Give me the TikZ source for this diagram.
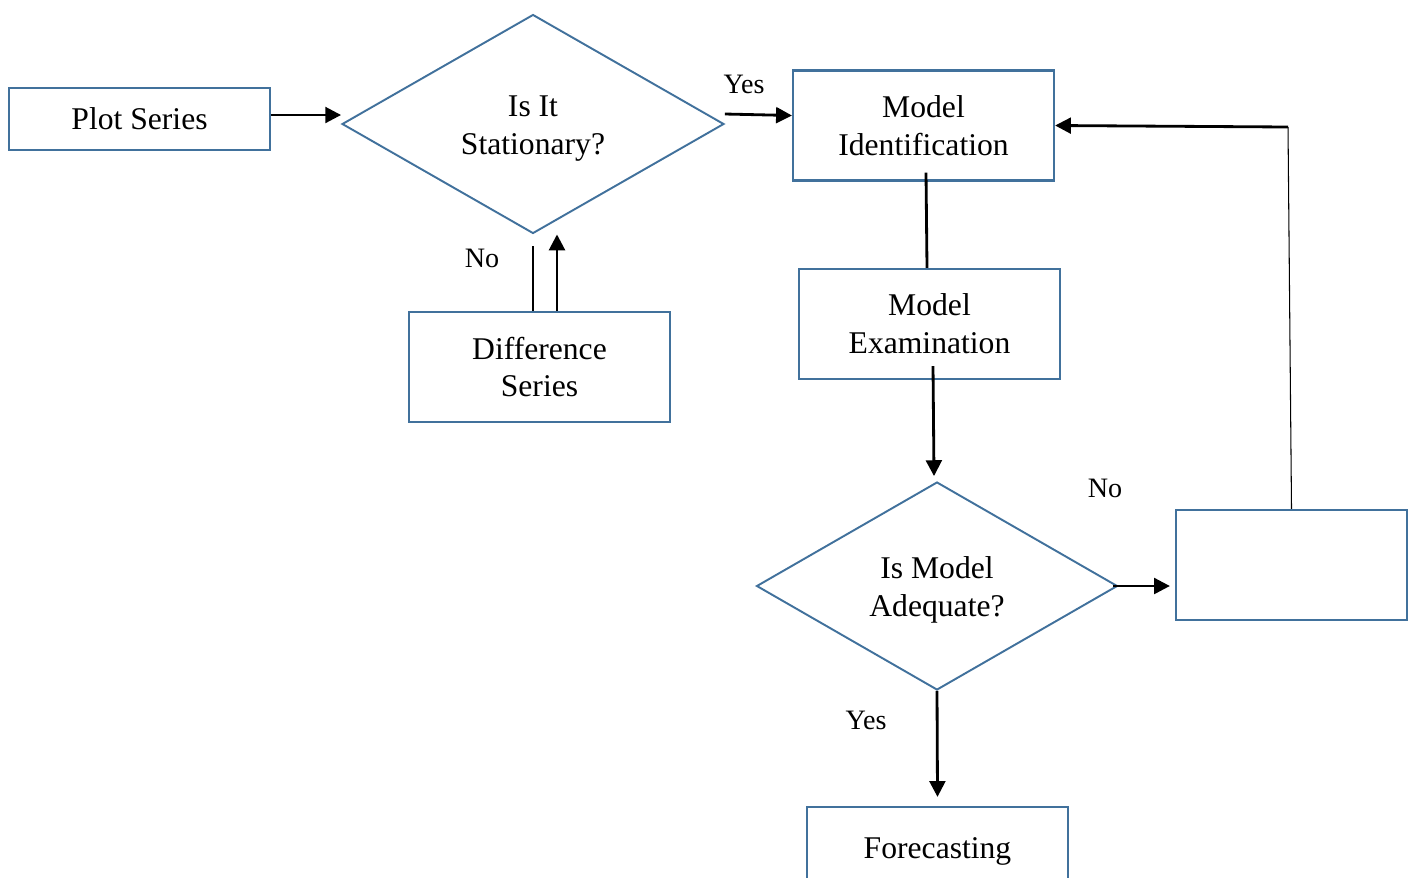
\documentclass[tikz,border=0pt]{standalone}
\usepackage{fontspec}
\setmainfont{Liberation Serif}
\usetikzlibrary{positioning, shapes.geometric, arrows.meta}
\definecolor{boxblue}{RGB}{65,113,156}
% two lines in a decision, set a bit lower than the centre
\newcommand{\lowtext}[1]{\raisebox{-0.08cm}[\height][\depth]{\begin{tabular}{@{}c@{}}#1\end{tabular}}}
\tikzset{
  stepbox/.style={draw=boxblue, line width=1.3pt, minimum width=5.22cm, minimum height=2.2cm,
    align=center, inner sep=0pt, font=\fontsize{18}{21.6}\selectfont},
  decision/.style={diamond, draw=boxblue, line width=1.1pt, aspect=1.74, inner sep=0pt,
    align=center, font=\fontsize{18}{21.6}\selectfont},
  flow/.style={line width=1.6pt, -{Triangle[width=9pt,length=9pt]}},
  plain/.style={line width=1.6pt},
  thinline/.style={line width=0.6pt},
  lbl/.style={font=\fontsize{16}{19}\selectfont, inner sep=0pt}
}

\begin{document}
\begin{tikzpicture}[x=0.02cm, y=-0.02cm]
\clip (0,0) rectangle (1415,877);

% boxes
\node[stepbox, minimum height=1.24cm] (plot) at (139.5,119) {Plot Series};
\node[decision, minimum width=7.64cm, minimum height=4.38cm] (stat) at (533,124) {\lowtext{Is It\\Stationary?}};
\node[stepbox] (diff) at (539.5,367) {Difference\\Series};
\node[stepbox] (ident) at (923.5,125.5) {Model\\Identification};
\node[stepbox] (exam) at (929.5,324) {Model\\Examination};
\node[decision, minimum width=7.22cm, minimum height=4.16cm] (adeq) at (937,586) {\lowtext{Is Model\\Adequate?}};
\node[stepbox, minimum width=4.62cm] (redo) at (1291.5,565) {};
\node[stepbox, minimum height=1.76cm] (fore) at (937.5,851) {Forecasting};
\coordinate (turn) at (1288,127);

% labels
\node[lbl] (yes1) at (744,84) {Yes};
\node[lbl] (no1) at (482,258) {No};
\node[lbl] (no2) at (1105,488) {No};
\node[lbl] (yes2) at (866,720) {Yes};

% connectors
\draw[flow] ([yshift=0.08cm]plot.east) -- ([yshift=0.08cm]plot.east -| stat.west);
\draw[flow] ([yshift=0.2cm]stat.east) -- ([yshift=0.2cm]ident.west);
\draw[plain] ([yshift=-0.24cm]stat.south) -- (stat.south |- diff.north);
\draw[flow] ([xshift=0.35cm]diff.north) -- ([xshift=0.35cm]diff.north |- stat.south);
\draw[plain] ([xshift=0.05cm,yshift=0.18cm]ident.south) -- ([xshift=-0.05cm]exam.north);
\draw[flow] ([xshift=0.07cm,yshift=0.28cm]exam.south) -- ([xshift=-0.06cm,yshift=0.1cm]adeq.north);
\draw[flow] (adeq.south) -- ([yshift=0.18cm]fore.north);
\draw[flow] ([xshift=-0.1cm]adeq.east) -- ([xshift=-0.1cm]adeq.east -| redo.west);
\draw[thinline] (redo.north) -- (turn);
\draw[flow] (turn) -- (ident.east);
\end{tikzpicture}
\end{document}
